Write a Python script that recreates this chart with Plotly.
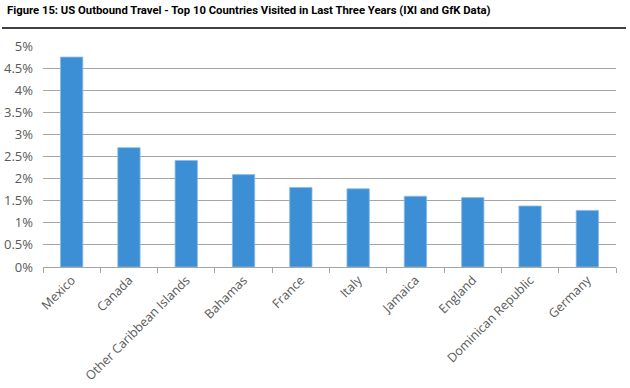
import plotly.graph_objects as go

countries = ["Mexico", "Canada", "Other Caribbean Islands", "Bahamas", "France",
             "Italy", "Jamaica", "England", "Dominican Republic", "Germany"]
share_pct = [4.75, 2.70, 2.41, 2.09, 1.80, 1.77, 1.60, 1.57, 1.38, 1.28]
y_tickvals = [0, 0.5, 1, 1.5, 2, 2.5, 3, 3.5, 4, 4.5, 5]
y_ticktext = ["0%", "0.5%", "1%", "1.5%", "2%", "2.5%", "3%", "3.5%", "4%", "4.5%", "5%"]
title_text = "Figure 15: US Outbound Travel - Top 10 Countries Visited in Last Three Years (IXI and GfK Data)"

TEXT = "#595959"
GRID = "#a6a6a6"

fig = go.Figure(go.Bar(
    x=countries, y=share_pct,
    marker=dict(color="#3d8fd5", line=dict(color="#8cbbe8", width=0.8)),
    width=0.39,
))

fig.add_shape(type="line", xref="paper", yref="paper",
              x0=-41/573, x1=(626-43)/573, y0=(388-28-121)/221, y1=(388-28-121)/221,
              line=dict(color="black", width=1.5), layer="above")

fig.update_layout(
    width=630, height=388,
    margin=dict(l=43, r=14, t=46, b=121),
    paper_bgcolor="white", plot_bgcolor="white",
    showlegend=False,
    font=dict(family="Open Sans, sans-serif", color=TEXT, size=12),
    annotations=[dict(text="<b>" + title_text + "</b>", xref="paper", yref="paper",
                      x=-38/573, y=(388-11-121)/221, xanchor="left", yanchor="middle",
                      showarrow=False,
                      font=dict(family="Roboto, sans-serif", size=11.3, color="black"))],
)

fig.update_xaxes(
    automargin=False,
    showgrid=False, showline=True, linecolor=GRID, linewidth=1,
    ticks="outside", tickson="boundaries", ticklen=5, tickcolor=GRID,
    tickangle=-45, tickfont=dict(size=12.5, color=TEXT, family="Open Sans, sans-serif"),
)
fig.update_yaxes(
    automargin=False,
    range=[0, 5], tickvals=y_tickvals, ticktext=y_ticktext,
    showgrid=True, gridcolor=GRID, gridwidth=1, zeroline=False,
    showline=False, ticks="", ticklabelstandoff=9,
    tickfont=dict(size=13, color=TEXT, family="Open Sans, sans-serif"),
)

fig.write_html("out.html", config={"displayModeBar": False},
               post_script="document.body.style.margin='0';document.body.style.overflow='hidden';")
